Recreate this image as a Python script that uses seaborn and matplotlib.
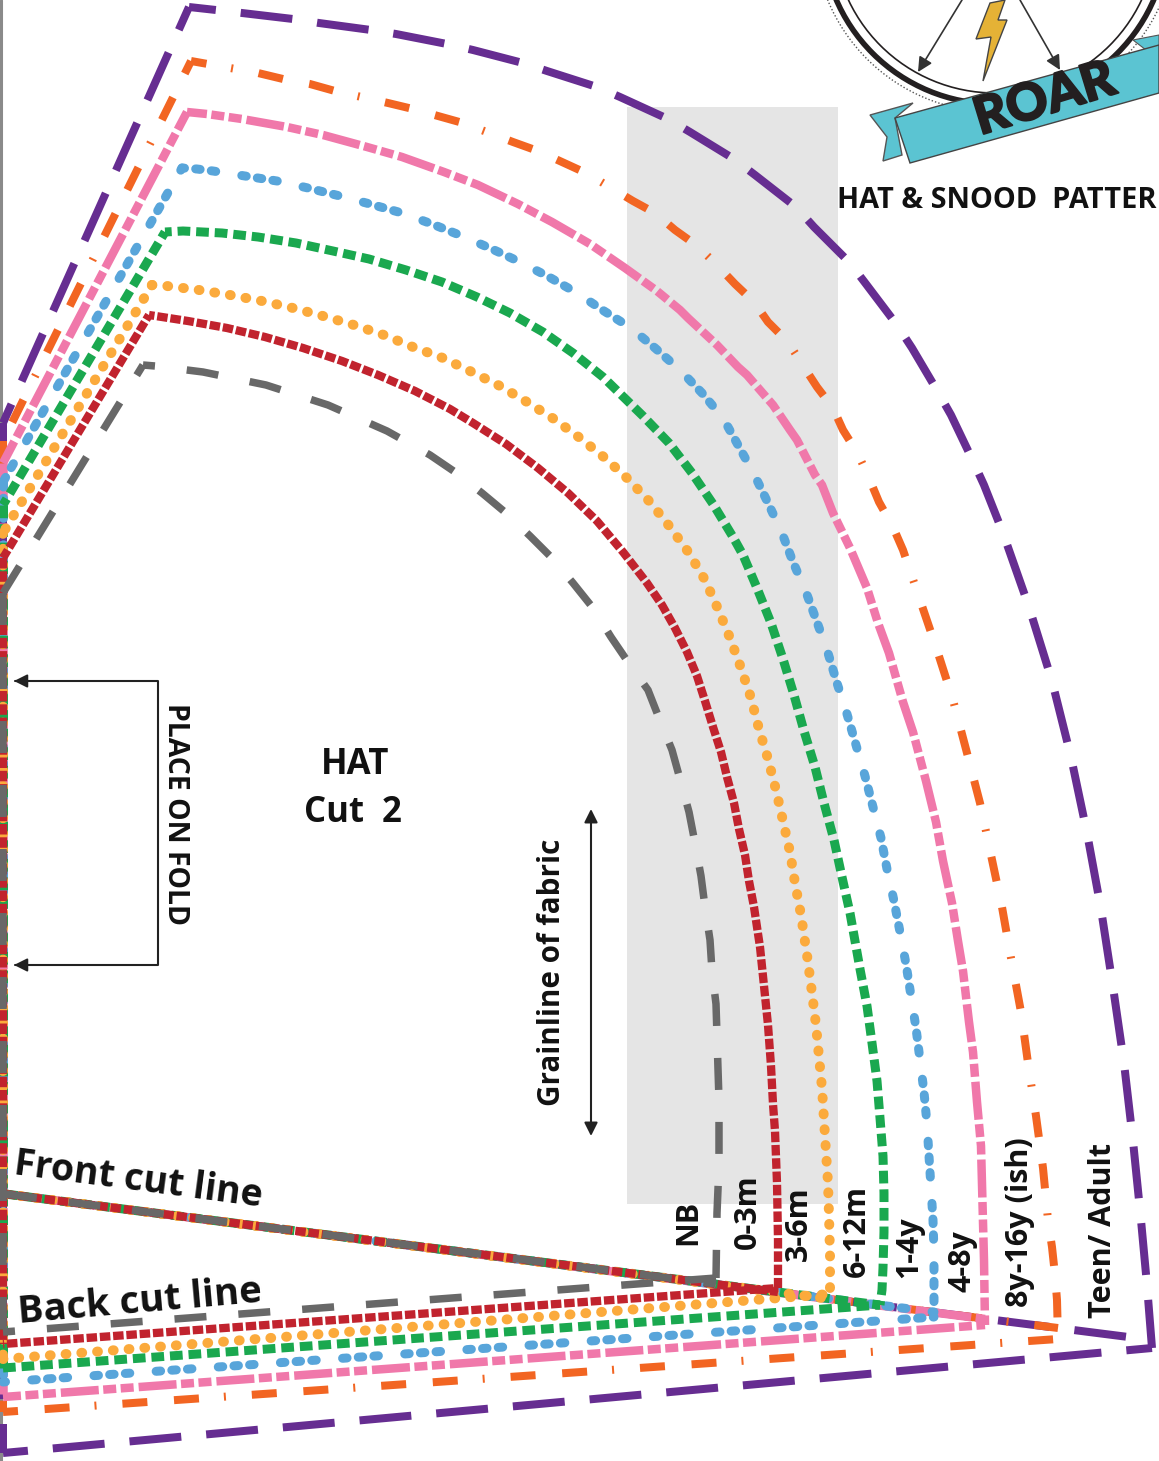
import pandas as pd
import seaborn as sns
import matplotlib.pyplot as plt
import matplotlib.patheffects as pe
from matplotlib.patches import Circle, Polygon, Rectangle

# Outer curve of each size, from the top corner to the bottom right corner,
# read off the pattern in pixels
TEEN_X = [189, 216, 242, 293, 319, 371, 396, 447, 473, 523, 547, 597, 620, 668, 690, 734, 755, 796, 814, 850, 866, 897, 912, 938, 951, 973, 984, 1003, 1029, 1052, 1071, 1087, 1101, 1113, 1124, 1133, 1141, 1147, 1152]
TEEN_Y = [7, 10, 13, 19, 23, 30, 34, 44, 50, 63, 71, 87, 97, 119, 132, 159, 175, 207, 227, 263, 284, 325, 348, 392, 415, 461, 485, 533, 607, 681, 757, 833, 909, 987, 1063, 1141, 1220, 1285, 1348]
ORANGE_X = [191, 258, 283, 310, 335, 388, 413, 438, 463, 513, 538, 562, 586, 608, 633, 655, 675, 696, 716, 735, 754, 768, 788, 802, 817, 833, 843, 858, 869, 879, 893, 903, 920, 937, 953, 967, 980, 991, 1002, 1011, 1021, 1028, 1036, 1043, 1048, 1052, 1055, 1057, 1058]
ORANGE_Y = [61, 73, 79, 84, 91, 103, 109, 116, 123, 142, 151, 162, 173, 186, 201, 213, 230, 245, 264, 284, 302, 322, 342, 364, 387, 408, 430, 454, 478, 502, 527, 550, 600, 650, 700, 753, 803, 855, 907, 958, 1012, 1063, 1116, 1168, 1220, 1247, 1275, 1300, 1339]
PINK_X = [187, 207, 242, 287, 323, 367, 402, 444, 478, 518, 552, 590, 625, 657, 680, 688, 717, 738, 747, 773, 790, 797, 815, 822, 833, 850, 867, 878, 889, 903, 913, 926, 936, 943, 952, 958, 963, 969, 973, 977, 981, 982, 984, 985]
PINK_Y = [112, 114, 119, 127, 135, 147, 157, 172, 185, 204, 222, 244, 268, 291, 310, 318, 345, 367, 375, 405, 430, 440, 475, 485, 513, 548, 588, 623, 653, 702, 732, 781, 822, 861, 903, 941, 971, 1022, 1052, 1102, 1146, 1184, 1260, 1325]
BLUE_X = [182, 197, 213, 245, 277, 308, 340, 370, 402, 432, 462, 492, 520, 549, 577, 604, 631, 655, 680, 702, 723, 738, 754, 768, 782, 793, 806, 817, 828, 837, 847, 856, 865, 873, 881, 887, 894, 900, 906, 911, 916, 920, 924, 927, 929, 931, 933, 934, 934, 934]
BLUE_Y = [168, 169, 171, 176, 181, 188, 196, 204, 213, 224, 236, 249, 262, 277, 293, 311, 328, 348, 370, 393, 418, 445, 474, 503, 533, 562, 592, 622, 653, 683, 714, 745, 776, 807, 838, 869, 901, 932, 964, 996, 1028, 1060, 1092, 1124, 1156, 1188, 1220, 1253, 1285, 1317]
GREEN_X = [165, 183, 222, 258, 296, 333, 369, 406, 442, 477, 510, 543, 573, 603, 643, 669, 692, 713, 733, 743, 757, 771, 783, 794, 804, 815, 824, 834, 842, 850, 860, 867, 872, 877, 880, 883, 884, 884, 883, 882, 880]
GREEN_Y = [232, 231, 233, 237, 243, 251, 259, 270, 282, 297, 313, 332, 353, 377, 416, 443, 473, 504, 537, 555, 588, 623, 659, 695, 731, 767, 803, 840, 877, 913, 969, 1006, 1043, 1081, 1118, 1156, 1193, 1232, 1268, 1290, 1305]
YELLOW_X = [152, 167, 199, 230, 262, 293, 323, 354, 384, 413, 443, 472, 500, 527, 554, 580, 605, 628, 650, 670, 689, 705, 718, 730, 741, 751, 759, 768, 776, 783, 790, 795, 801, 808, 812, 816, 819, 822, 824, 826, 828, 829, 830, 830]
YELLOW_Y = [285, 286, 290, 295, 301, 308, 316, 325, 335, 347, 358, 372, 386, 402, 419, 438, 458, 479, 502, 527, 553, 580, 609, 638, 668, 698, 729, 759, 790, 821, 852, 883, 915, 962, 993, 1025, 1057, 1088, 1120, 1152, 1183, 1215, 1255, 1294]
RED_X = [149, 162, 188, 227, 265, 303, 342, 378, 415, 450, 473, 506, 538, 568, 597, 623, 647, 662, 675, 687, 697, 705, 713, 721, 727, 734, 739, 745, 749, 754, 760, 764, 768, 771, 773, 775, 777, 778, 778]
RED_Y = [315, 317, 321, 328, 337, 348, 361, 375, 391, 409, 423, 444, 468, 493, 521, 552, 583, 605, 628, 652, 676, 701, 727, 752, 777, 803, 829, 855, 881, 907, 947, 986, 1025, 1066, 1104, 1131, 1183, 1240, 1288]
GRAY_X = [143, 155, 203, 266, 328, 387, 430, 455, 482, 506, 530, 552, 573, 593, 611, 628, 648, 659, 672, 680, 689, 695, 701, 705, 710, 712, 716, 717, 718, 719, 719, 719, 717, 716]
GRAY_Y = [365, 366, 372, 385, 405, 431, 455, 472, 493, 513, 536, 558, 583, 608, 637, 662, 690, 718, 750, 779, 812, 843, 876, 907, 940, 971, 1004, 1036, 1069, 1100, 1133, 1165, 1213, 1278]

# where the slanted edge of each size meets the fold, the bottom left corner,
# and where the shared front cut line ends for each size
TOP_Y = [423, 441, 463, 482, 505, 533, 558, 593]
BOTTOM_Y = [1453, 1412, 1397, 1382, 1368, 1359, 1344, 1332]
FRONT_END_Y = [1340, 1328, 1319, 1312, 1305, 1299, 1292, 1284]
FRONT_X = 5
FRONT_Y = 1194

SIZE_LABELS = ['NB', '0-3m', '3-6m', '6-12m', '1-4y', '4-8y', '8y-16y (ish)', 'Teen/ Adult']
LABEL_X = [688, 748, 799, 857, 909, 962, 1020, 1103]
LABEL_Y = [1222, 1212, 1224, 1231, 1247, 1261, 1222, 1231]

PURPLE = '#662D91'
DARK = '#111111'

# curve, colour, width, dash pattern, cap, dash offsets for curve / slant / bottom (all px)
SIZES = [
    (TEEN_X, TEEN_Y, PURPLE, 8, (52, 25), 'butt', (25, 27, 27)),
    (ORANGE_X, ORANGE_Y, '#F26522', 8, (25, 26.7, 25, 25, 2, 26), 'butt', (61, 11, 10)),
    (PINK_X, PINK_Y, '#F078AA', 8.5, (38, 4.5, 13, 4.5, 13, 5), 'butt', (18, 18, 20)),
    (BLUE_X, BLUE_Y, '#58A5DA', 9, (4.5, 11.2, 4.5, 11.2, 4.5, 26.4), 'round', (2, 33.4, 33.4)),
    (GREEN_X, GREEN_Y, '#1AA84F', 9, (12.7, 5.9), 'butt', (6, 6, 0)),
    (YELLOW_X, YELLOW_Y, '#FBAA3C', 10, (0.8, 15), 'round', (0.4, 0.4, 0.4)),
    (RED_X, RED_Y, '#C1232E', 8.3, (10.5, 2.8), 'butt', (5, 5, 9.3)),
    (GRAY_X, GRAY_Y, '#686868', 7.5, (32, 32), 'butt', (20, 20, 20)),
]

sns.set_theme(style='white')
plt.rcParams['font.family'] = ['Open Sans', 'DejaVu Sans']

fig = plt.figure(figsize=(11.59, 14.61), dpi=100)
ax = fig.add_axes([0, 0, 1, 1])

PX = 0.72


def draw_piece(xs, ys, colour, width, dash, cap, offset=0):
    frame = pd.DataFrame({'x': xs, 'y': ys})
    pattern = tuple(d / width for d in dash)
    sns.lineplot(data=frame, x='x', y='y', sort=False, estimator=None, ax=ax,
                 color=colour, lw=width * PX, linestyle=(offset / width, pattern),
                 dash_capstyle=cap, dash_joinstyle='miter', zorder=2)


for (xs, ys, colour, width, dash, cap, offsets), top, bottom, front_end in zip(SIZES, TOP_Y, BOTTOM_Y, FRONT_END_Y):
    left = 3
    draw_piece([left, left], [top, bottom], colour, width, dash, cap)
    draw_piece([FRONT_X, xs[-1]], [FRONT_Y, front_end], colour, width, dash, cap)
    draw_piece(xs, ys, colour, width, dash, cap, offsets[0])
    draw_piece([xs[0], left], [ys[0], top], colour, width, dash, cap, offsets[1])
    draw_piece([left, xs[-1]], [bottom, ys[-1]], colour, width, dash, cap, offsets[2])

ax.set_xlim(0, 1159)
ax.set_ylim(1461, 0)
ax.axis('off')

# grey band and page edge
ax.add_patch(Rectangle((627, 107), 211, 1097, color='#E5E5E5', zorder=0, lw=0))
ax.plot([0.5, 0.5], [0, 1461], color='#8A8A8A', lw=2.2, zorder=0.5)

# badge at the top right
ax.add_patch(Circle((995, -69), 181, fill=False, ec='#555555', lw=1, ls=(0, (1, 1.5)), zorder=3))
ax.add_patch(Circle((995, -69), 173, fill=False, ec='#231F20', lw=4, zorder=3))
ax.add_patch(Circle((995, -69), 162, fill=False, ec='#231F20', lw=1.2, zorder=3))
ax.add_patch(Polygon([(870, 115), (913, 103), (895, 118), (902, 155), (883, 161), (887, 137)],
                     fc='#5BC4D2', ec='#555555', lw=1, zorder=4))
ax.add_patch(Polygon([(1133, 40), (1159, 35), (1159, 60)], fc='#5BC4D2', ec='#555555', lw=0.8, zorder=4))
ax.add_patch(Polygon([(895, 118), (1159, 45), (1159, 93), (910, 163)],
                     fc='#5BC4D2', ec='#444444', lw=1, zorder=4))
ax.add_patch(Polygon([(990, 3), (1005, 0), (998, 20), (1007, 20), (983, 81), (991, 37), (976, 39)],
                     fc='#E5B236', ec='#444444', lw=1, zorder=4))
for start, tip in [((962, 0), (918, 72)), ((1020, 0), (1060, 70))]:
    ax.annotate('', xy=tip, xytext=start, zorder=4,
                arrowprops=dict(arrowstyle='-|>', color='#333333', lw=1.2, mutation_scale=22, shrinkA=0, shrinkB=0))
ax.text(1045, 100, 'ROAR', rotation=17, fontsize=37, fontweight='black', family='Lato', color='#231F20',
        ha='center', va='center', zorder=5,
        path_effects=[pe.withStroke(linewidth=1.5, foreground='#231F20')])

# fold bracket and grainline
ax.plot([15, 158, 158, 15], [681, 681, 965, 965], color='#222222', lw=1.5, zorder=3)
for y in (681, 965):
    ax.annotate('', xy=(14, y), xytext=(40, y), zorder=3,
                arrowprops=dict(arrowstyle='-|>', color='#222222', lw=1.4, mutation_scale=20, shrinkA=0, shrinkB=0))
ax.annotate('', xy=(591, 809), xytext=(591, 1136), zorder=3,
            arrowprops=dict(arrowstyle='<|-|>', color='#222222', lw=1.5, mutation_scale=20, shrinkA=0, shrinkB=0))

# texts
ax.text(997, 200, 'HAT & SNOOD  PATTER', fontsize=20.8, fontweight='bold', color=DARK,
        ha='center', va='center', zorder=5)
ax.text(175, 814, 'PLACE ON FOLD', rotation=270, fontsize=20.4, fontweight='bold', color=DARK,
        ha='center', va='center', zorder=5)
ax.text(355, 765, 'HAT', fontsize=25, fontweight='bold', color=DARK, ha='center', va='center', zorder=5)
ax.text(353, 813, 'Cut  2', fontsize=25, fontweight='bold', color=DARK, ha='center', va='center', zorder=5)
ax.text(552, 972, 'Grainline of fabric', rotation=90, fontsize=21.3, fontweight='bold', color=DARK,
        ha='center', va='center', zorder=5)
ax.text(138, 1180, 'Front cut line', rotation=-7.5, fontsize=27, fontweight='bold', color=DARK,
        ha='center', va='center', rotation_mode='anchor', zorder=5)
ax.text(140, 1302, 'Back cut line', rotation=5, fontsize=27.5, fontweight='bold', color=DARK,
        ha='center', va='center', rotation_mode='anchor', zorder=5)
for name, x, y in zip(SIZE_LABELS, LABEL_X, LABEL_Y):
    ax.text(x, y, name, rotation=90, fontsize=22, fontweight='bold', color=DARK,
            ha='center', va='center', zorder=5)

fig.savefig('out.png', dpi=100)
